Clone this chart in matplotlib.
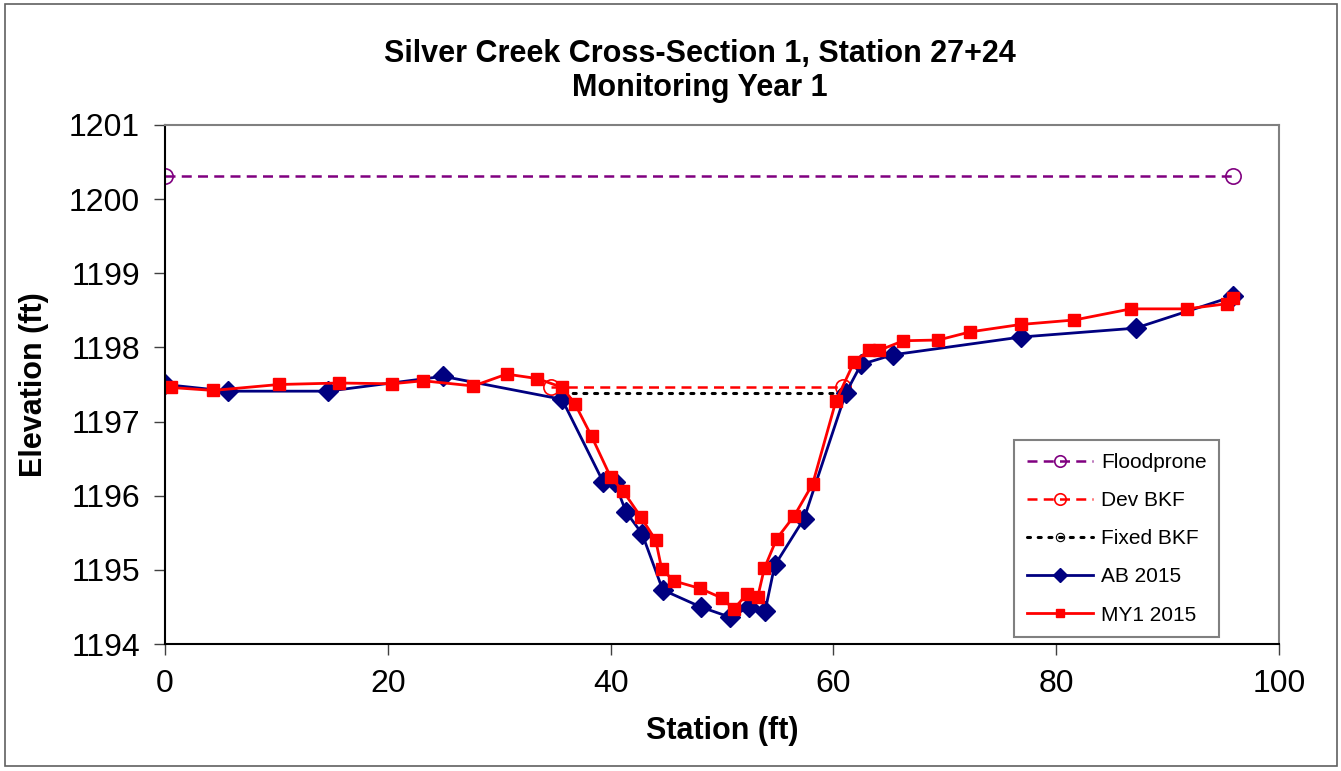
import matplotlib.pyplot as plt
from matplotlib.patches import Rectangle

plt.rcParams['font.family'] = ['Liberation Sans', 'DejaVu Sans']

# surveyed cross-section data
ab_station = [0, 5.66, 14.63, 24.96, 35.64, 39.32, 40.37, 41.39, 42.82, 44.68, 48.09,
              50.75, 52.41, 53.86, 54.73, 57.36, 61.10, 62.48, 65.32, 76.82, 87.12, 95.90]
ab_elev = [1197.50, 1197.41, 1197.41, 1197.61, 1197.30, 1196.19, 1196.18, 1195.78, 1195.49,
           1194.73, 1194.50, 1194.36, 1194.50, 1194.44, 1195.06, 1195.69, 1197.38, 1197.77,
           1197.90, 1198.14, 1198.26, 1198.69]

my1_station = [0.51, 4.34, 10.23, 15.62, 20.35, 23.19, 27.68, 30.67, 33.42, 35.67, 36.80,
               38.30, 40.01, 41.14, 42.73, 44.05, 44.59, 45.69, 48.02, 50.00, 51.05, 52.27,
               53.20, 53.80, 54.91, 56.49, 58.14, 60.23, 61.88, 63.20, 64.09, 66.28, 69.42,
               72.29, 76.84, 81.63, 86.71, 91.71, 95.36, 95.90]
my1_elev = [1197.46, 1197.42, 1197.50, 1197.52, 1197.51, 1197.55, 1197.48, 1197.64, 1197.58,
            1197.46, 1197.24, 1196.80, 1196.25, 1196.06, 1195.71, 1195.40, 1195.01, 1194.85,
            1194.75, 1194.62, 1194.47, 1194.68, 1194.63, 1195.02, 1195.42, 1195.73, 1196.16,
            1197.28, 1197.81, 1197.96, 1197.96, 1198.09, 1198.10, 1198.21, 1198.31, 1198.37,
            1198.52, 1198.52, 1198.59, 1198.67]

flood_station = [0, 95.9]
flood_elev = [1200.31, 1200.31]
dev_station = [34.65, 60.86]
dev_elev = [1197.46, 1197.46]
fixed_station = [35.6, 60.9]
fixed_elev = [1197.39, 1197.39]

fig = plt.figure(figsize=(13.41, 7.71), dpi=100)
ax = fig.add_axes([0.123, 0.1647, 0.8308, 0.6732])

ax.plot(flood_station, flood_elev, color='#800080', ls=(0, (4, 2.5)), lw=1.8,
        marker='o', ms=11, mfc='none', mec='#800080', mew=1.2, label='Floodprone')
ax.plot(dev_station, dev_elev, color='red', ls=(0, (4, 2.5)), lw=1.8,
        marker='o', ms=11, mfc='none', mec='red', mew=1.2, label='Dev BKF')
ax.plot(fixed_station, fixed_elev, color='black', ls=(0, (1, 2.5)), lw=2.2,
        dash_capstyle='round', marker='o', ms=8, mfc='none', mec='black', mew=0.8,
        label='Fixed BKF')
ax.plot(ab_station, ab_elev, color='#000080', lw=2, marker='D', ms=10,
        mfc='#000080', mec='#000080', label='AB 2015')
ax.plot(my1_station, my1_elev, color='red', lw=2, marker='s', ms=8.5,
        mfc='red', mec='red', label='MY1 2015')

ax.set_xlim(0, 100)
ax.set_ylim(1194, 1201)
ax.set_xticks(range(0, 101, 20))
ax.set_yticks(range(1194, 1202))
ax.tick_params(axis='both', labelsize=23, direction='out', length=8, width=1,
               colors='#404040', labelcolor='black')
ax.tick_params(axis='x', pad=10)
ax.tick_params(axis='y', pad=10)

ax.spines['left'].set_color('black')
ax.spines['bottom'].set_color('black')
ax.spines['top'].set_color('#808080')
ax.spines['right'].set_color('#808080')
for s in ax.spines.values():
    s.set_linewidth(1.5)

ax.set_xlabel('Station (ft)', fontsize=22, fontweight='bold', labelpad=12)
ax.set_ylabel('Elevation (ft)', fontsize=22, fontweight='bold', labelpad=14)
fig.text(0.522, 0.908, 'Silver Creek Cross-Section 1, Station 27+24\nMonitoring Year 1',
         ha='center', va='center', fontsize=22, fontweight='bold', linespacing=1.2)

leg = ax.legend(loc='lower right', bbox_to_anchor=(0.946, 0.0135), borderaxespad=0,
                fontsize=15, handlelength=3.2, handletextpad=0.35, labelspacing=0.92,
                borderpad=0.6, markerscale=0.75, fancybox=False, framealpha=1,
                edgecolor='#808080')
leg.get_frame().set_linewidth(1.5)

# outer border around chart area
fig.patches.append(Rectangle((0.004, 0.006), 0.993, 0.989, transform=fig.transFigure,
                             fill=False, edgecolor='#606060', lw=1.2))

fig.savefig('out.png', dpi=100)
